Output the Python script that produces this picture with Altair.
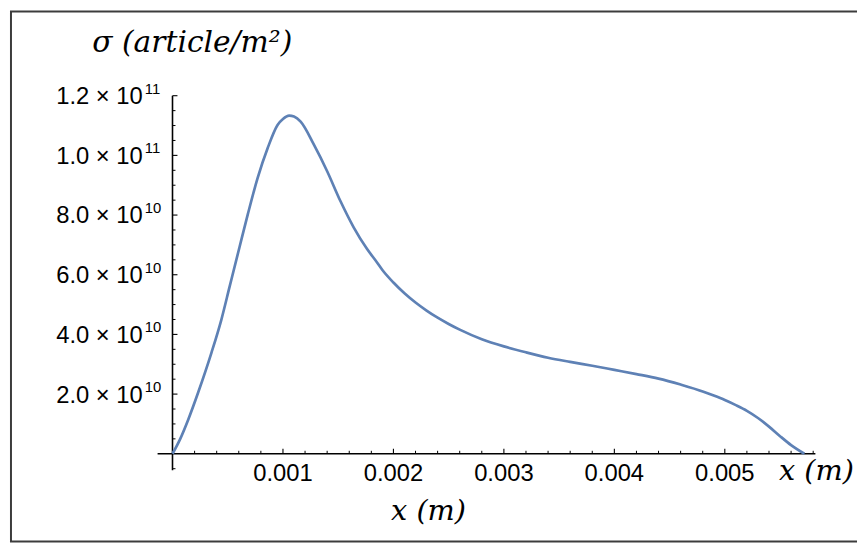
import altair as alt
import pandas as pd

# ---- curve data ----
x_m = [0.0, 0.00007, 0.000143, 0.000233, 0.000353, 0.000442, 0.000517, 0.000607,
       0.000682, 0.000771, 0.000861, 0.000951, 0.001, 0.001056, 0.0011, 0.00116,
       0.00128, 0.0014, 0.00152, 0.00164, 0.00176, 0.00185, 0.0019, 0.002,
       0.0021, 0.0022, 0.0023, 0.0024, 0.0025, 0.0026, 0.0028, 0.003,
       0.0032, 0.0034, 0.0036, 0.0038, 0.004, 0.0042, 0.0044, 0.0046,
       0.0048, 0.0049, 0.005, 0.0051, 0.0052, 0.0053, 0.0054, 0.0055, 0.0056, 0.00572]
sigma = [0.0, 0.50e10, 1.15e10, 2.06e10, 3.39e10, 4.49e10, 5.60e10, 6.93e10,
         8.03e10, 9.25e10, 10.24e10, 11.02e10, 11.22e10, 11.33e10, 11.30e10, 11.13e10,
         10.36e10, 9.47e10, 8.47e10, 7.59e10, 6.87e10, 6.42e10, 6.16e10, 5.74e10,
         5.38e10, 5.07e10, 4.80e10, 4.56e10, 4.35e10, 4.16e10, 3.84e10, 3.60e10,
         3.40e10, 3.22e10, 3.08e10, 2.95e10, 2.81e10, 2.67e10, 2.52e10, 2.32e10,
         2.09e10, 1.95e10, 1.80e10, 1.63e10, 1.44e10, 1.20e10, 0.91e10, 0.59e10, 0.29e10, 0.0]

# ---- axis ticks & labels ----
x_major = [0.001, 0.002, 0.003, 0.004, 0.005]
x_major_labels = ["0.001", "0.002", "0.003", "0.004", "0.005"]
x_minor = [0.0002, 0.0004, 0.0006, 0.0008, 0.0012, 0.0014, 0.0016, 0.0018,
           0.0022, 0.0024, 0.0026, 0.0028, 0.0032, 0.0034, 0.0036, 0.0038,
           0.0042, 0.0044, 0.0046, 0.0048, 0.0052, 0.0054, 0.0056, 0.0058]
y_major = [2e10, 4e10, 6e10, 8e10, 1e11, 1.2e11]
y_mantissa = ["2.0 × 10", "4.0 × 10", "6.0 × 10", "8.0 × 10", "1.0 × 10", "1.2 × 10"]
y_exponent = ["10", "10", "10", "10", "11", "11"]
y_minor = [-5e9, 5e9, 1e10, 1.5e10, 2.5e10, 3e10, 3.5e10, 4.5e10, 5e10, 5.5e10,
           6.5e10, 7e10, 7.5e10, 8.5e10, 9e10, 9.5e10, 1.05e11, 1.1e11, 1.15e11]

X_MIN, X_MAX = -0.000135, 0.00582
Y_MIN, Y_MAX = -5.5e9, 1.2e11

xs = alt.Scale(domain=[X_MIN, X_MAX], nice=False, zero=False)
ys = alt.Scale(domain=[Y_MIN, Y_MAX], nice=False, zero=False)

def X(f):
    return alt.X(f, scale=xs, axis=None)

def Y(f):
    return alt.Y(f, scale=ys, axis=None)

curve_df = pd.DataFrame({"x": x_m, "sigma": sigma})
xaxis_df = pd.DataFrame({"x0": [X_MIN], "x1": [X_MAX], "y0": [0.0]})
yaxis_df = pd.DataFrame({"x0": [0.0], "y0": [Y_MIN], "y1": [Y_MAX]})
xmaj_df = pd.DataFrame({"v": x_major, "lab": x_major_labels, "zero": [0.0] * len(x_major)})
xmin_df = pd.DataFrame({"v": x_minor, "zero": [0.0] * len(x_minor)})
ymaj_df = pd.DataFrame({"v": y_major, "mant": y_mantissa, "exp": y_exponent,
                        "zero": [0.0] * len(y_major)})
ymin_df = pd.DataFrame({"v": y_minor, "zero": [0.0] * len(y_minor)})
one = pd.DataFrame({"k": [0]})

AX = "#000000"
SANS = "Liberation Sans"
SERIF = "DejaVu Serif"

frame = alt.Chart(one).mark_rect(filled=False, stroke="#3c3c3c", strokeWidth=2).encode(
    x=alt.value(-148), x2=alt.value(720), y=alt.value(-85), y2=alt.value(450))

x_axis = alt.Chart(xaxis_df).mark_rule(color=AX, strokeWidth=1.6).encode(
    x=X("x0:Q"), x2="x1:Q", y=Y("y0:Q"))
y_axis = alt.Chart(yaxis_df).mark_rule(color=AX, strokeWidth=1.6).encode(
    x=X("x0:Q"), y=Y("y0:Q"), y2="y1:Q")

x_maj_ticks = alt.Chart(xmaj_df).mark_rule(color=AX, strokeWidth=1.1, y2Offset=-5).encode(
    x=X("v:Q"), y=Y("zero:Q"), y2="zero:Q")
x_min_ticks = alt.Chart(xmin_df).mark_rule(color=AX, strokeWidth=1.0, y2Offset=-3).encode(
    x=X("v:Q"), y=Y("zero:Q"), y2="zero:Q")
y_maj_ticks = alt.Chart(ymaj_df).mark_rule(color=AX, strokeWidth=1.1, x2Offset=5).encode(
    x=X("zero:Q"), x2="zero:Q", y=Y("v:Q"))
y_min_ticks = alt.Chart(ymin_df).mark_rule(color=AX, strokeWidth=1.0, x2Offset=3).encode(
    x=X("zero:Q"), x2="zero:Q", y=Y("v:Q"))

x_labels = alt.Chart(xmaj_df).mark_text(
    font=SANS, fontSize=24, color=AX, align="center", baseline="alphabetic", dy=27
).encode(x=X("v:Q"), y=Y("zero:Q"), text="lab:N")

y_lab_main = alt.Chart(ymaj_df).mark_text(
    font=SANS, fontSize=24, color=AX, align="right", baseline="alphabetic", dx=-30, dy=8.5
).encode(x=X("zero:Q"), y=Y("v:Q"), text="mant:N")
y_lab_exp = alt.Chart(ymaj_df).mark_text(
    font=SANS, fontSize=15, color=AX, align="left", baseline="alphabetic", dx=-28, dy=-2
).encode(x=X("zero:Q"), y=Y("v:Q"), text="exp:N")

curve = alt.Chart(curve_df).mark_line(
    color="#5E81B5", strokeWidth=2.7, interpolate="monotone"
).encode(x=X("x:Q"), y=Y("sigma:Q"))

y_title = alt.Chart(one).mark_text(
    text="σ (article/m²)", font=SERIF, fontStyle="italic", fontSize=30, color=AX,
    align="center", baseline="alphabetic"
).encode(x=alt.value(35), y=alt.value(-44.5))
x_title_bottom = alt.Chart(one).mark_text(
    text="x (m)", font=SERIF, fontStyle="italic", fontSize=29, color=AX,
    align="center", baseline="alphabetic"
).encode(x=alt.value(273.5), y=alt.value(428))
x_title_right = alt.Chart(one).mark_text(
    text="x (m)", font=SERIF, fontStyle="italic", fontSize=29, color=AX,
    align="center", baseline="alphabetic"
).encode(x=alt.value(665), y=alt.value(388))

chart = alt.layer(
    frame, x_min_ticks, x_maj_ticks, y_min_ticks, y_maj_ticks, x_axis, y_axis,
    curve, x_labels, y_lab_main, y_lab_exp, y_title, x_title_bottom, x_title_right
).properties(
    width=664, height=378,
    autosize=alt.AutoSizeParams(type="none"),
    padding={"left": 151, "top": 86, "right": 42, "bottom": 74},
    background="white",
).configure_view(stroke=None)

chart.save("out.html", embed_options={"renderer": "svg", "actions": False})
